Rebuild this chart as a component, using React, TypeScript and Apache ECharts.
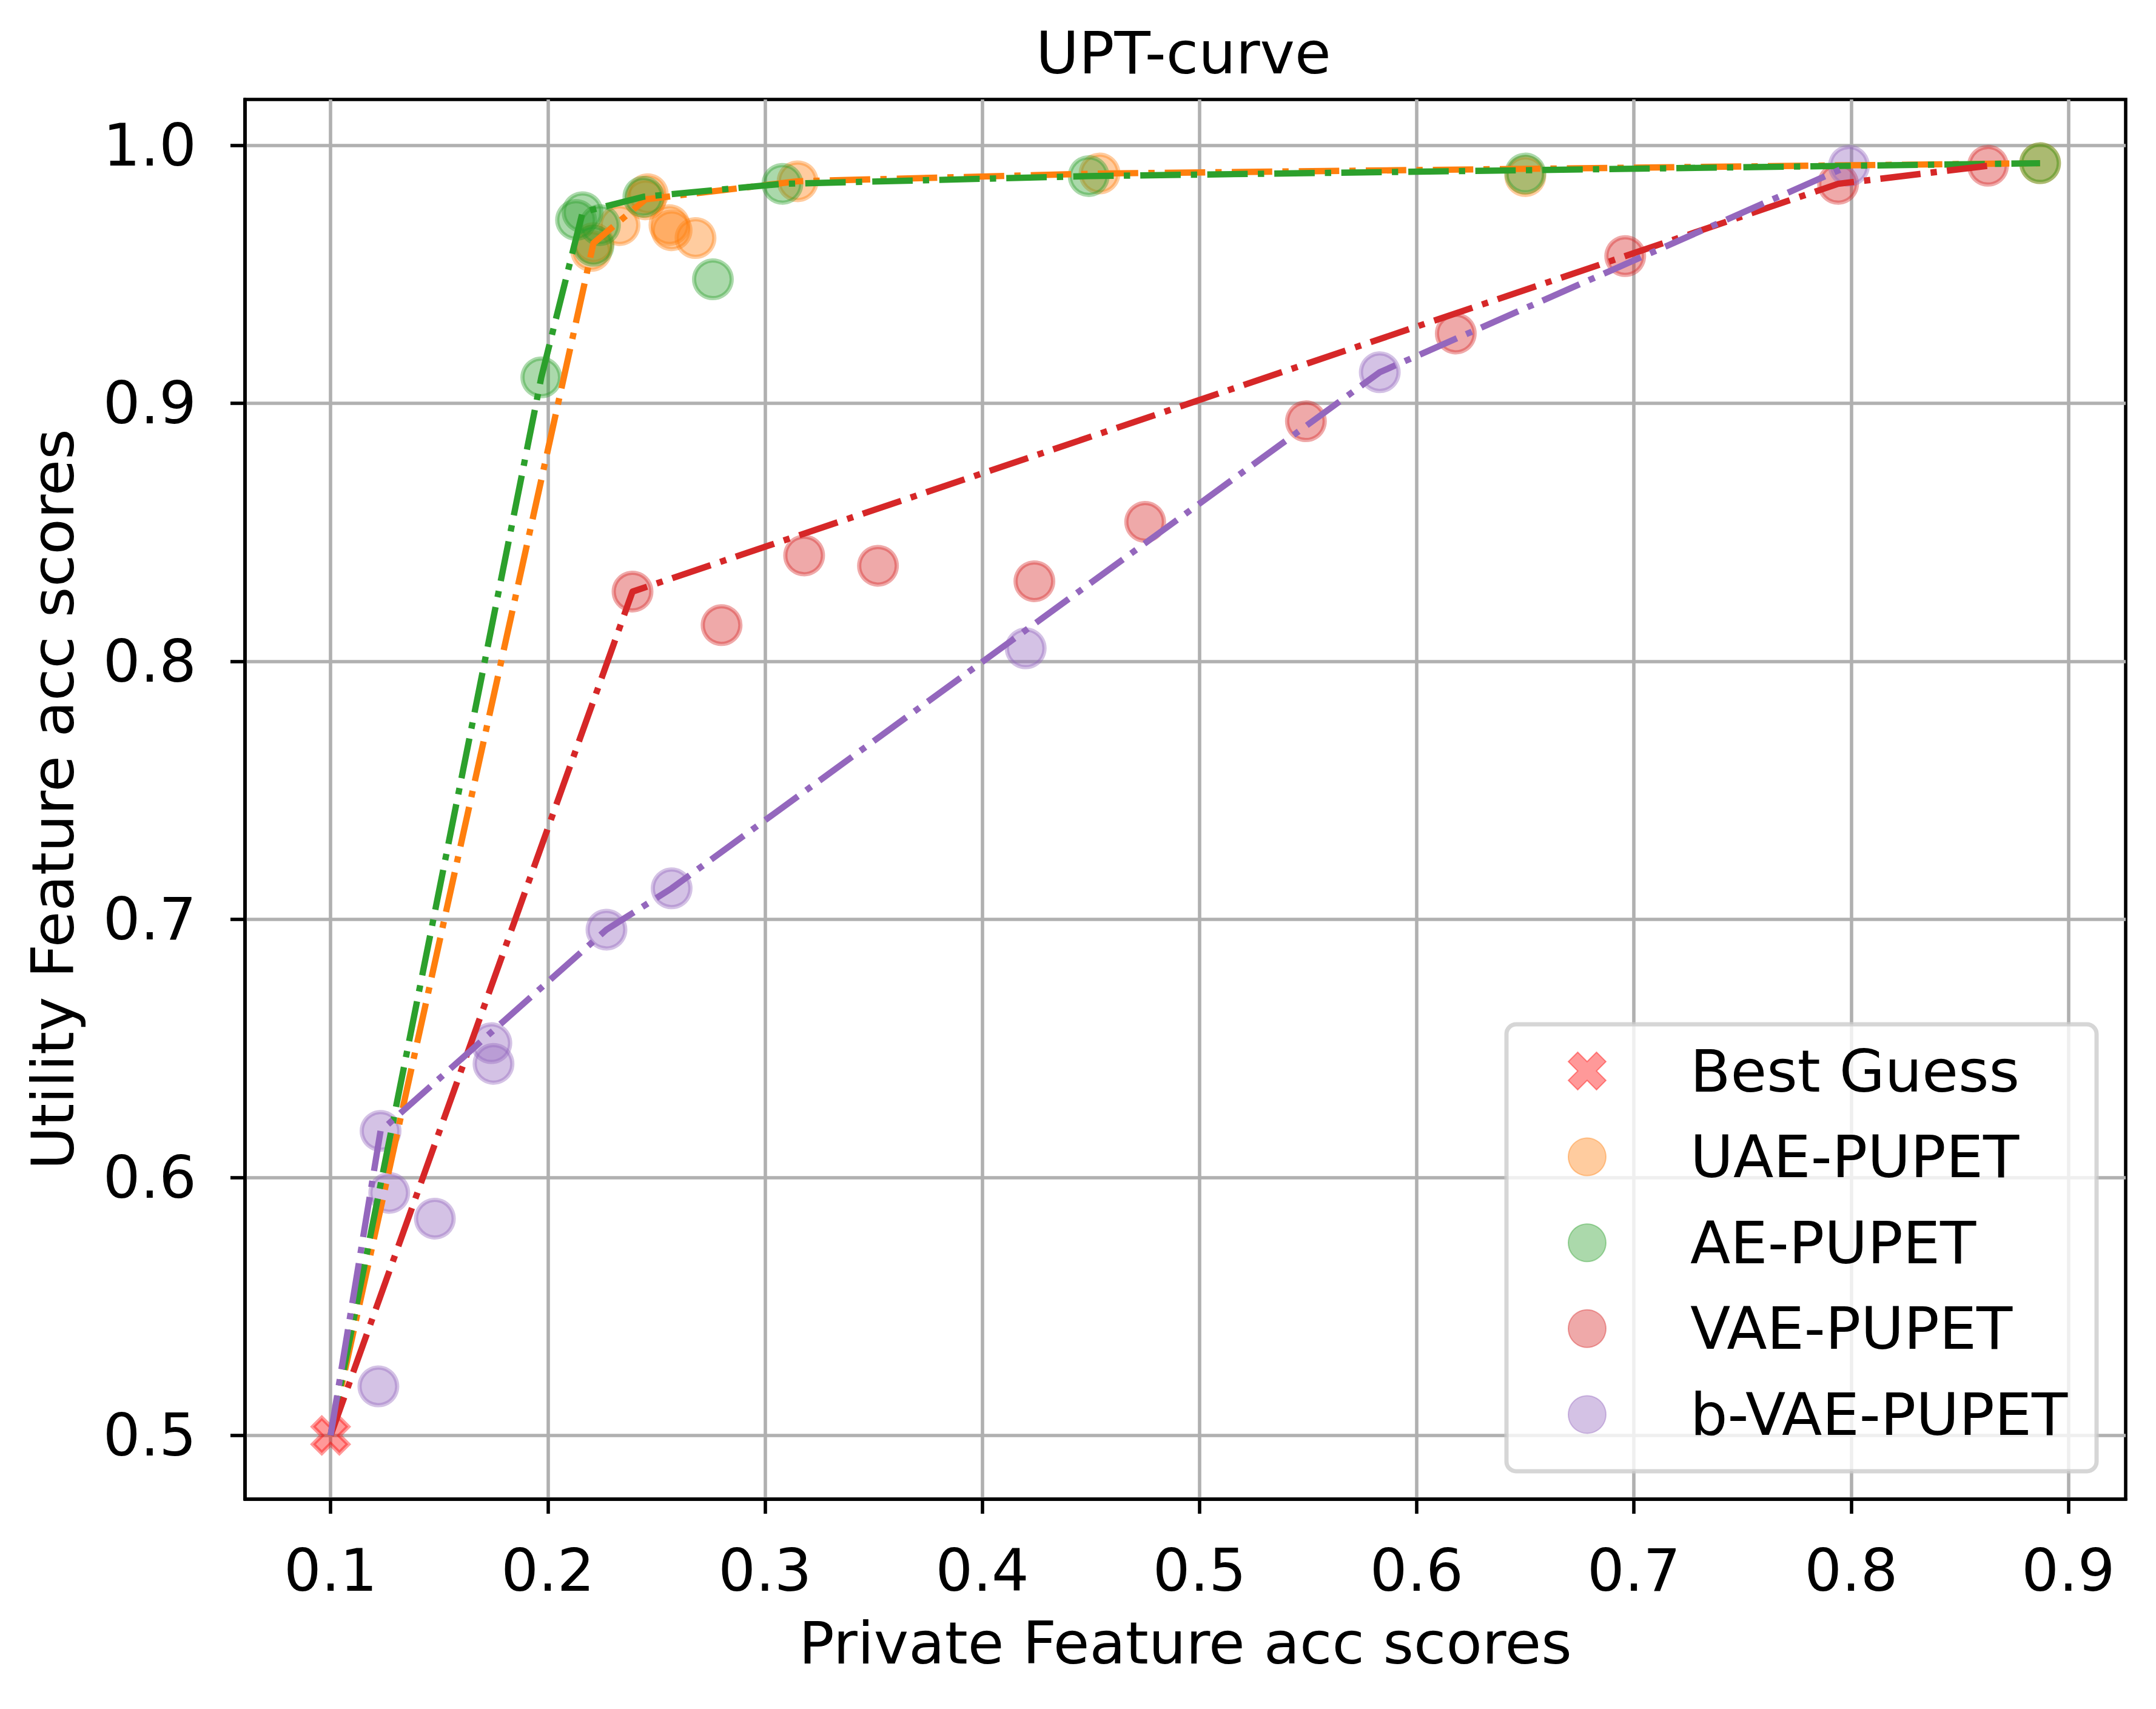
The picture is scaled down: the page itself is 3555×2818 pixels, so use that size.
import React, { useEffect, useRef } from 'react';
import * as echarts from 'echarts';

const W = 3555;
const H = 2818;
const FONT = '"DejaVu Sans", sans-serif';

// axis ticks
const xTicks = [0.1, 0.2, 0.3, 0.4, 0.5, 0.6, 0.7, 0.8, 0.9];
const yTicks = [0.5, 0.6, 0.7, 0.8, 0.9, 1.0];
const xRange = [0.0606, 0.9264];
const yRange = [0.4753, 1.0177];

// data points [private acc, utility acc]
const bestGuess = [[0.1, 0.5]];
const uaePoints = [
  [0.220, 0.959], [0.221, 0.962], [0.233, 0.969], [0.245, 0.979], [0.246, 0.981],
  [0.256, 0.969], [0.257, 0.967], [0.268, 0.964], [0.315, 0.986], [0.454, 0.989],
  [0.650, 0.988], [0.887, 0.993],
];
const aePoints = [
  [0.197, 0.910], [0.213, 0.971], [0.216, 0.974], [0.221, 0.961], [0.224, 0.969],
  [0.244, 0.980], [0.276, 0.948], [0.308, 0.985], [0.449, 0.988], [0.650, 0.989],
  [0.887, 0.993],
];
const vaePoints = [
  [0.239, 0.827], [0.280, 0.814], [0.318, 0.841], [0.352, 0.837], [0.424, 0.831],
  [0.475, 0.854], [0.549, 0.893], [0.618, 0.927], [0.696, 0.957], [0.794, 0.985],
  [0.863, 0.992],
];
const bvaePoints = [
  [0.122, 0.519], [0.123, 0.618], [0.127, 0.594], [0.148, 0.584], [0.174, 0.652],
  [0.175, 0.644], [0.227, 0.696], [0.257, 0.712], [0.420, 0.805], [0.583, 0.912],
  [0.799, 0.992],
];

// frontier curves
const uaeFrontier = [[0.1, 0.5], [0.221, 0.962], [0.245, 0.979], [0.315, 0.986], [0.454, 0.989], [0.887, 0.993]];
const aeFrontier = [[0.1, 0.5], [0.197, 0.910], [0.216, 0.974], [0.244, 0.980], [0.308, 0.985], [0.449, 0.988], [0.887, 0.993]];
const vaeFrontier = [[0.1, 0.5], [0.239, 0.827], [0.696, 0.957], [0.794, 0.985], [0.863, 0.992]];
const bvaeFrontier = [[0.1, 0.5], [0.123, 0.618], [0.227, 0.696], [0.257, 0.712], [0.583, 0.912], [0.799, 0.992]];

const names = ['Best Guess', 'UAE-PUPET', 'AE-PUPET', 'VAE-PUPET', 'b-VAE-PUPET'];
const colors = {
  orange: [255, 127, 14],
  green: [44, 160, 44],
  red: [214, 39, 40],
  purple: [148, 103, 189],
  pure: [255, 0, 0],
};

const X_PATH =
  'path://M73.57 2.86 L97.14 26.43 L73.57 50 L97.14 73.57 L73.57 97.14 L50 73.57 L26.43 97.14 L2.86 73.57 L26.43 50 L2.86 26.43 L26.43 2.86 L50 26.43 Z';

const rgba = (c: number[], a: number) => `rgba(${c[0]},${c[1]},${c[2]},${a})`;
const hex = (c: number[]) => `rgb(${c[0]},${c[1]},${c[2]})`;

const LW = 10.4;
const DASH = [66.7, 16.7, 10.4, 16.7];

function scatter(name: string, data: number[][], c: number[], symbol = 'circle', size = 62) {
  return {
    type: 'scatter',
    name,
    data,
    symbol,
    symbolSize: size,
    itemStyle: { color: rgba(c, 0.5), borderColor: rgba(c, 0.5), borderWidth: 7 },
    silent: true,
  };
}

function frontier(name: string, data: number[][], c: number[]) {
  return {
    type: 'line',
    name,
    data,
    showSymbol: false,
    symbol: 'none',
    lineStyle: { color: hex(c), width: LW, type: DASH, cap: 'butt', join: 'round' },
    silent: true,
  };
}

export default function App() {
  const ref = useRef<HTMLDivElement>(null);
  useEffect(() => {
    document.body.style.margin = '0';
    const chart = echarts.init(ref.current!, null, { renderer: 'svg', width: W, height: H });
    const axisCommon = {
      axisLine: { show: true, lineStyle: { color: '#000', width: 5.6 } },
      axisTick: { show: true, length: 24, lineStyle: { color: '#000', width: 5.6 } },
      splitLine: { show: true, lineStyle: { color: '#b0b0b0', width: 5.6 } },
      nameTextStyle: { fontFamily: FONT, fontSize: 97, color: '#000' },
    };
    chart.setOption({
      animation: false,
      backgroundColor: '#fff',
      title: {
        text: 'UPT-curve',
        left: 1703,
        top: 34,
        textStyle: { fontFamily: FONT, fontSize: 97, fontWeight: 'normal', color: '#000' },
      },
      grid: {
        left: 404,
        top: 164,
        width: 3101,
        height: 2308,
        show: true,
        borderColor: '#000',
        borderWidth: 5.6,
        backgroundColor: 'transparent',
      },
      xAxis: {
        type: 'value',
        min: xRange[0],
        max: xRange[1],
        name: 'Private Feature acc scores',
        nameLocation: 'middle',
        nameGap: 189,
        ...axisCommon,
        axisTick: { ...axisCommon.axisTick, customValues: xTicks },
        axisLabel: {
          customValues: xTicks,
          formatter: (v: number) => v.toFixed(1),
          fontFamily: FONT,
          fontSize: 97,
          color: '#000',
          margin: 69,
        },
      },
      yAxis: {
        type: 'value',
        min: yRange[0],
        max: yRange[1],
        name: 'Utility Feature acc scores',
        nameLocation: 'middle',
        nameRotate: 90,
        nameGap: 268,
        ...axisCommon,
        axisTick: { ...axisCommon.axisTick, customValues: yTicks },
        axisLabel: {
          customValues: yTicks,
          formatter: (v: number) => v.toFixed(1),
          fontFamily: FONT,
          fontSize: 97,
          color: '#000',
          margin: 80,
        },
      },
      legend: {
        data: names,
        orient: 'vertical',
        left: 2585,
        top: 1716,
        padding: 0,
        itemWidth: 330,
        itemHeight: 62,
        itemGap: 41.6,
        selectedMode: false,
        z: 6,
        textStyle: { fontFamily: FONT, fontSize: 97, color: '#000', lineHeight: 100 },
      },
      graphic: [
        {
          type: 'rect',
          z: 5,
          shape: { x: 2484, y: 1689, width: 973, height: 737, r: 16 },
          style: { fill: 'rgba(255,255,255,0.8)', stroke: 'rgba(204,204,204,0.8)', lineWidth: 7 },
          silent: true,
        },
      ],
      tooltip: { show: false },
      series: [
        scatter(names[0], bestGuess, colors.pure, X_PATH, 58),
        scatter(names[1], uaePoints, colors.orange),
        scatter(names[2], aePoints, colors.green),
        scatter(names[3], vaePoints, colors.red),
        scatter(names[4], bvaePoints, colors.purple),
        frontier('UAE frontier', uaeFrontier, colors.orange),
        frontier('AE frontier', aeFrontier, colors.green),
        frontier('VAE frontier', vaeFrontier, colors.red),
        frontier('b-VAE frontier', bvaeFrontier, colors.purple),
      ],
    });
    return () => chart.dispose();
  }, []);
  return (
    <div
      ref={ref}
      style={{ position: 'fixed', left: 0, top: 0, width: W, height: H, background: '#fff' }}
    />
  );
}
